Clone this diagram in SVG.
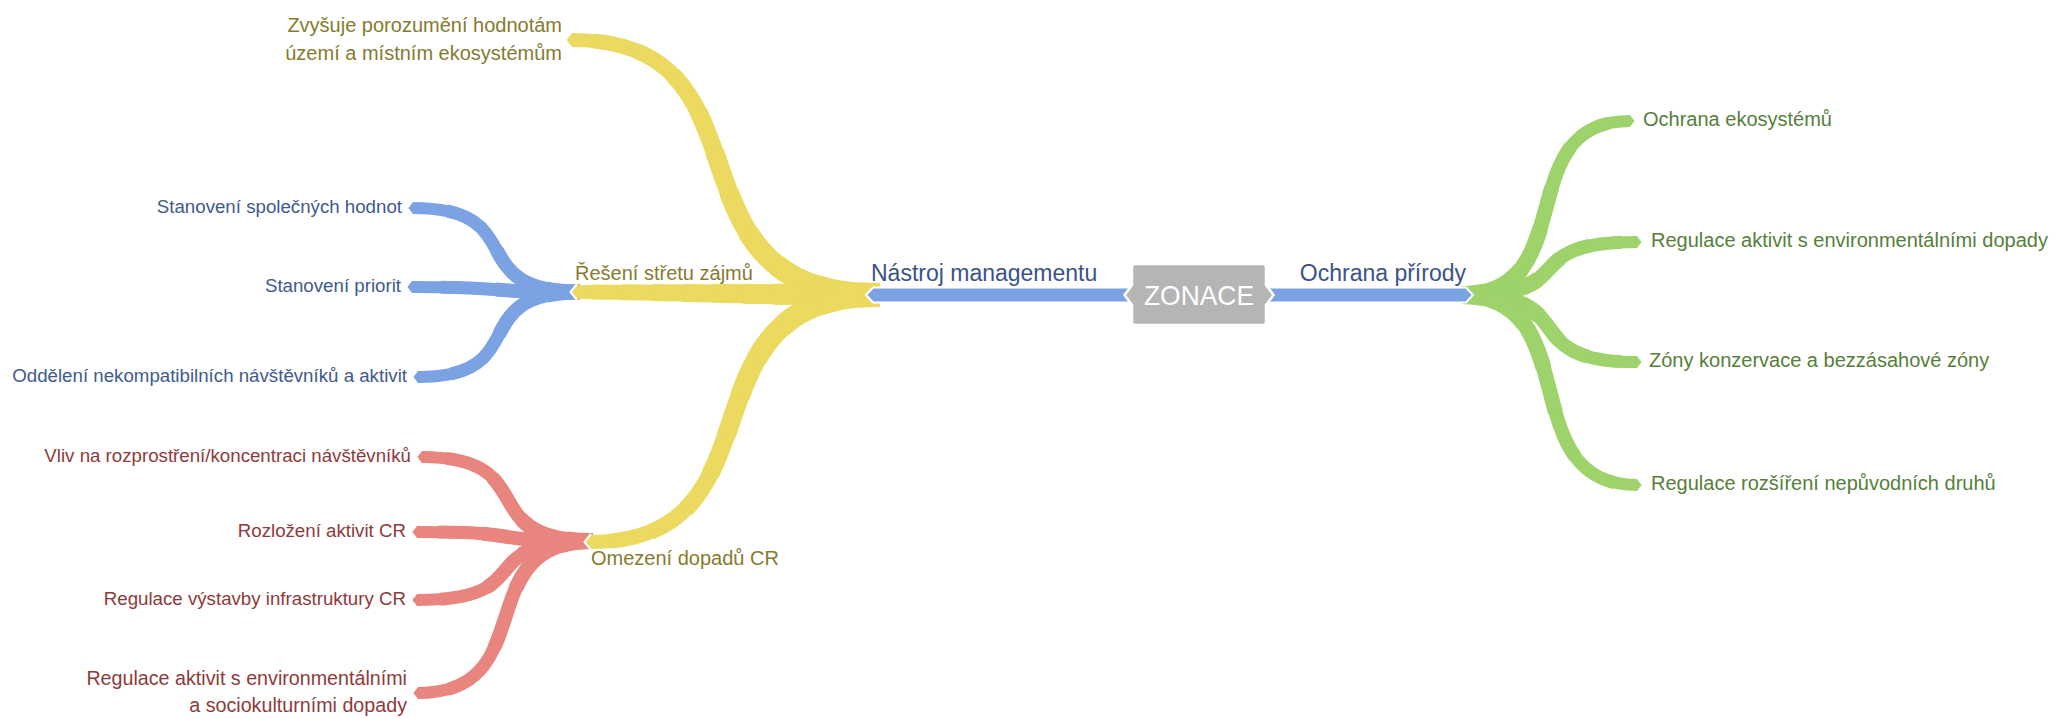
<svg xmlns="http://www.w3.org/2000/svg" width="2056" height="719" viewBox="0 0 2056 719">
<style>
.br{fill:none}
.y{stroke:#ebd960}.b{stroke:#7ba3e3}.r{stroke:#e8857e}.g{stroke:#9dd36a}
.a95{stroke-dasharray:95 1000}.a85{stroke-dasharray:85 1000}.a75{stroke-dasharray:75 1000}.a65{stroke-dasharray:65 1000}.a55{stroke-dasharray:55 1000}.a45{stroke-dasharray:45 1000}.a35{stroke-dasharray:35 1000}.a25{stroke-dasharray:25 1000}.a15{stroke-dasharray:15 1000}.a5{stroke-dasharray:5 1000}
.a92{stroke-dasharray:92 1000}.a58{stroke-dasharray:58 1000}.a42{stroke-dasharray:42 1000}.a8{stroke-dasharray:8 1000}
.a83{stroke-dasharray:83 1000}.a50{stroke-dasharray:50 1000}.a17{stroke-dasharray:17 1000}
.a88{stroke-dasharray:88 1000}.a63{stroke-dasharray:63 1000}.a38{stroke-dasharray:38 1000}.a13{stroke-dasharray:13 1000}
.bar{fill:#7ba3e3;stroke:#fff;stroke-width:2}
.chev{fill:none;stroke:#fff;stroke-width:2}
text{font-family:"Liberation Sans",Arial,sans-serif}
.ty{fill:#857b2e;font-size:20px}
.tb{fill:#3e5a8e;font-size:18.7px}
.tr{fill:#8e3a3a;font-size:18.7px}
.tr2{fill:#8e3a3a;font-size:19.7px}
.tg{fill:#55803a;font-size:20px}
.tm{fill:#3b5388;font-size:23px}
.tz{fill:#fff;font-size:28px}
</style>
<defs>
<marker id="mY" viewBox="-0.05 -0.5 0.45 1" refX="0" refY="0" markerWidth="0.45" markerHeight="1" orient="auto" markerUnits="strokeWidth"><path d="M-0.05,-0.5L0,-0.5L0.38,0L0,0.5L-0.05,0.5Z" fill="#ebd960"/></marker>
<marker id="mB" viewBox="-0.05 -0.5 0.45 1" refX="0" refY="0" markerWidth="0.45" markerHeight="1" orient="auto" markerUnits="strokeWidth"><path d="M-0.05,-0.5L0,-0.5L0.38,0L0,0.5L-0.05,0.5Z" fill="#7ba3e3"/></marker>
<marker id="mR" viewBox="-0.05 -0.5 0.45 1" refX="0" refY="0" markerWidth="0.45" markerHeight="1" orient="auto" markerUnits="strokeWidth"><path d="M-0.05,-0.5L0,-0.5L0.38,0L0,0.5L-0.05,0.5Z" fill="#e8857e"/></marker>
<marker id="mG" viewBox="-0.05 -0.5 0.45 1" refX="0" refY="0" markerWidth="0.45" markerHeight="1" orient="auto" markerUnits="strokeWidth"><path d="M-0.05,-0.5L0,-0.5L0.38,0L0,0.5L-0.05,0.5Z" fill="#9dd36a"/></marker>
<path id="py1" class="br" pathLength="100" d="M880,295 C652,295 784,40 572,40"/>
<path id="py2" class="br" pathLength="100" d="M880,295 C760,295 680,292 576,292"/>
<path id="py3" class="br" pathLength="100" d="M880,295 C670,295 792,542 590,542"/>
<path id="pb1" class="br" pathLength="100" d="M580,292 C460,292 533,208 413,208"/>
<path id="pb2" class="br" pathLength="100" d="M580,292 C470,292 520,287 412,287"/>
<path id="pb3" class="br" pathLength="100" d="M580,292 C463,292 535,377 418,377"/>
<path id="pr1" class="br" pathLength="100" d="M593,541 C470,541 545,457 422,457"/>
<path id="pr2" class="br" pathLength="100" d="M593,541 C470,541 540,532 417,532"/>
<path id="pr3" class="br" pathLength="100" d="M593,541 C466,541 544,600 417,600"/>
<path id="pr4" class="br" pathLength="100" d="M593,541 C467,541 544,693 418,693"/>
<path id="pg1" class="br" pathLength="100" d="M1462,295 C1583,295 1509,121 1630,121"/>
<path id="pg2" class="br" pathLength="100" d="M1462,295 C1588,295 1511,242 1637,242"/>
<path id="pg3" class="br" pathLength="100" d="M1462,295 C1588,295 1511,362 1637,362"/>
<path id="pg4" class="br" pathLength="100" d="M1462,295 C1588,295 1511,485 1637,485"/>
</defs>
<rect width="2056" height="719" fill="#fff"/>
<g id="connectors">
<g id="branches-blue-sub">
<use href="#pb1" class="b" stroke-width="12" marker-end="url(#mB)"/><use href="#pb1" class="b a83" stroke-width="13"/><use href="#pb1" class="b a50" stroke-width="14"/><use href="#pb1" class="b a17" stroke-width="15"/>
<use href="#pb2" class="b" stroke-width="12" marker-end="url(#mB)"/><use href="#pb2" class="b a83" stroke-width="13"/><use href="#pb2" class="b a50" stroke-width="14"/><use href="#pb2" class="b a17" stroke-width="15"/>
<use href="#pb3" class="b" stroke-width="12" marker-end="url(#mB)"/><use href="#pb3" class="b a83" stroke-width="13"/><use href="#pb3" class="b a50" stroke-width="14"/><use href="#pb3" class="b a17" stroke-width="15"/>
</g>
<g id="branches-red">
<use href="#pr1" class="r" stroke-width="12" marker-end="url(#mR)"/><use href="#pr1" class="r a88" stroke-width="13"/><use href="#pr1" class="r a63" stroke-width="14"/><use href="#pr1" class="r a38" stroke-width="15"/><use href="#pr1" class="r a13" stroke-width="16"/>
<use href="#pr2" class="r" stroke-width="12" marker-end="url(#mR)"/><use href="#pr2" class="r a88" stroke-width="13"/><use href="#pr2" class="r a63" stroke-width="14"/><use href="#pr2" class="r a38" stroke-width="15"/><use href="#pr2" class="r a13" stroke-width="16"/>
<use href="#pr3" class="r" stroke-width="12" marker-end="url(#mR)"/><use href="#pr3" class="r a88" stroke-width="13"/><use href="#pr3" class="r a63" stroke-width="14"/><use href="#pr3" class="r a38" stroke-width="15"/><use href="#pr3" class="r a13" stroke-width="16"/>
<use href="#pr4" class="r" stroke-width="12" marker-end="url(#mR)"/><use href="#pr4" class="r a88" stroke-width="13"/><use href="#pr4" class="r a63" stroke-width="14"/><use href="#pr4" class="r a38" stroke-width="15"/><use href="#pr4" class="r a13" stroke-width="16"/>
</g>
<g id="branches-yellow">
<use href="#py1" class="y" stroke-width="14" marker-end="url(#mY)"/><use href="#py1" class="y a95" stroke-width="15"/><use href="#py1" class="y a85" stroke-width="16"/><use href="#py1" class="y a75" stroke-width="17"/><use href="#py1" class="y a65" stroke-width="18"/><use href="#py1" class="y a55" stroke-width="19"/><use href="#py1" class="y a45" stroke-width="20"/><use href="#py1" class="y a35" stroke-width="21"/><use href="#py1" class="y a25" stroke-width="22"/><use href="#py1" class="y a15" stroke-width="23"/><use href="#py1" class="y a5" stroke-width="24"/>
<use href="#py2" class="y" stroke-width="14" marker-end="url(#mY)"/><use href="#py2" class="y a95" stroke-width="15"/><use href="#py2" class="y a85" stroke-width="16"/><use href="#py2" class="y a75" stroke-width="17"/><use href="#py2" class="y a65" stroke-width="18"/><use href="#py2" class="y a55" stroke-width="19"/><use href="#py2" class="y a45" stroke-width="20"/><use href="#py2" class="y a35" stroke-width="21"/><use href="#py2" class="y a25" stroke-width="22"/><use href="#py2" class="y a15" stroke-width="23"/><use href="#py2" class="y a5" stroke-width="24"/>
<use href="#py3" class="y" stroke-width="14" marker-end="url(#mY)"/><use href="#py3" class="y a95" stroke-width="15"/><use href="#py3" class="y a85" stroke-width="16"/><use href="#py3" class="y a75" stroke-width="17"/><use href="#py3" class="y a65" stroke-width="18"/><use href="#py3" class="y a55" stroke-width="19"/><use href="#py3" class="y a45" stroke-width="20"/><use href="#py3" class="y a35" stroke-width="21"/><use href="#py3" class="y a25" stroke-width="22"/><use href="#py3" class="y a15" stroke-width="23"/><use href="#py3" class="y a5" stroke-width="24"/>
<polyline class="chev" points="577,284 570.5,292 577,300"/>
<polyline class="chev" points="591,534 584.5,542 591,550"/>
</g>
<g id="branches-green">
<use href="#pg1" class="g" stroke-width="12" marker-end="url(#mG)"/><use href="#pg1" class="g a92" stroke-width="13"/><use href="#pg1" class="g a75" stroke-width="14"/><use href="#pg1" class="g a58" stroke-width="15"/><use href="#pg1" class="g a42" stroke-width="16"/><use href="#pg1" class="g a25" stroke-width="17"/><use href="#pg1" class="g a8" stroke-width="18"/>
<use href="#pg2" class="g" stroke-width="12" marker-end="url(#mG)"/><use href="#pg2" class="g a92" stroke-width="13"/><use href="#pg2" class="g a75" stroke-width="14"/><use href="#pg2" class="g a58" stroke-width="15"/><use href="#pg2" class="g a42" stroke-width="16"/><use href="#pg2" class="g a25" stroke-width="17"/><use href="#pg2" class="g a8" stroke-width="18"/>
<use href="#pg3" class="g" stroke-width="12" marker-end="url(#mG)"/><use href="#pg3" class="g a92" stroke-width="13"/><use href="#pg3" class="g a75" stroke-width="14"/><use href="#pg3" class="g a58" stroke-width="15"/><use href="#pg3" class="g a42" stroke-width="16"/><use href="#pg3" class="g a25" stroke-width="17"/><use href="#pg3" class="g a8" stroke-width="18"/>
<use href="#pg4" class="g" stroke-width="12" marker-end="url(#mG)"/><use href="#pg4" class="g a92" stroke-width="13"/><use href="#pg4" class="g a75" stroke-width="14"/><use href="#pg4" class="g a58" stroke-width="15"/><use href="#pg4" class="g a42" stroke-width="16"/><use href="#pg4" class="g a25" stroke-width="17"/><use href="#pg4" class="g a8" stroke-width="18"/>
</g>
<g id="branches-main">
<polygon class="bar" points="1140,287.5 873,287.5 866,295 873,302.5 1140,302.5"/>
<polygon class="bar" points="1258,287.5 1466,287.5 1473,295 1466,302.5 1258,302.5"/>
</g>
</g>
<g id="node-zonace">
<path d="M1135,264H1263Q1266,264 1266,267V285L1273.5,295L1266,305V322Q1266,325 1263,325H1135Q1132,325 1132,322V305L1124.5,295L1132,285V267Q1132,264 1135,264Z" fill="#b5b5b5" stroke="#fff" stroke-width="2.5"/>
<text class="tz" x="1199" y="305" text-anchor="middle" textLength="110" lengthAdjust="spacingAndGlyphs">ZONACE</text>
</g>
<g id="node-nastroj-managementu"><text class="tm" x="871" y="281">Nástroj managementu</text></g>
<g id="node-ochrana-prirody"><text class="tm" x="1466" y="281" text-anchor="end">Ochrana přírody</text></g>
<g id="node-zvysuje"><text class="ty" text-anchor="end"><tspan x="562" y="32">Zvyšuje porozumění hodnotám</tspan><tspan x="562" y="60">území a místním ekosystémům</tspan></text></g>
<g id="node-reseni-stretu-zajmu"><text class="ty" x="575" y="280">Řešení střetu zájmů</text></g>
<g id="node-omezeni-dopadu-cr"><text class="ty" x="591" y="565">Omezení dopadů CR</text></g>
<g id="node-stanoveni-spolecnych-hodnot"><text class="tb" x="402" y="213" text-anchor="end">Stanovení společných hodnot</text></g>
<g id="node-stanoveni-priorit"><text class="tb" x="401" y="292" text-anchor="end">Stanovení priorit</text></g>
<g id="node-oddeleni"><text class="tb" x="407" y="382" text-anchor="end">Oddělení nekompatibilních návštěvníků a aktivit</text></g>
<g id="node-vliv"><text class="tr" x="411" y="462" text-anchor="end">Vliv na rozprostření/koncentraci návštěvníků</text></g>
<g id="node-rozlozeni"><text class="tr" x="406" y="537" text-anchor="end">Rozložení aktivit CR</text></g>
<g id="node-regulace-vystavby"><text class="tr" x="406" y="605" text-anchor="end">Regulace výstavby infrastruktury CR</text></g>
<g id="node-regulace-aktivit-soc"><text class="tr2" text-anchor="end"><tspan x="407" y="685">Regulace aktivit s environmentálními</tspan><tspan x="407" y="712">a sociokulturními dopady</tspan></text></g>
<g id="node-ochrana-ekosystemu"><text class="tg" x="1643" y="126">Ochrana ekosystémů</text></g>
<g id="node-regulace-aktivit-env"><text class="tg" x="1651" y="247">Regulace aktivit s environmentálními dopady</text></g>
<g id="node-zony"><text class="tg" x="1649" y="367">Zóny konzervace a bezzásahové zóny</text></g>
<g id="node-regulace-rozsireni"><text class="tg" x="1651" y="490">Regulace rozšíření nepůvodních druhů</text></g>
</svg>
